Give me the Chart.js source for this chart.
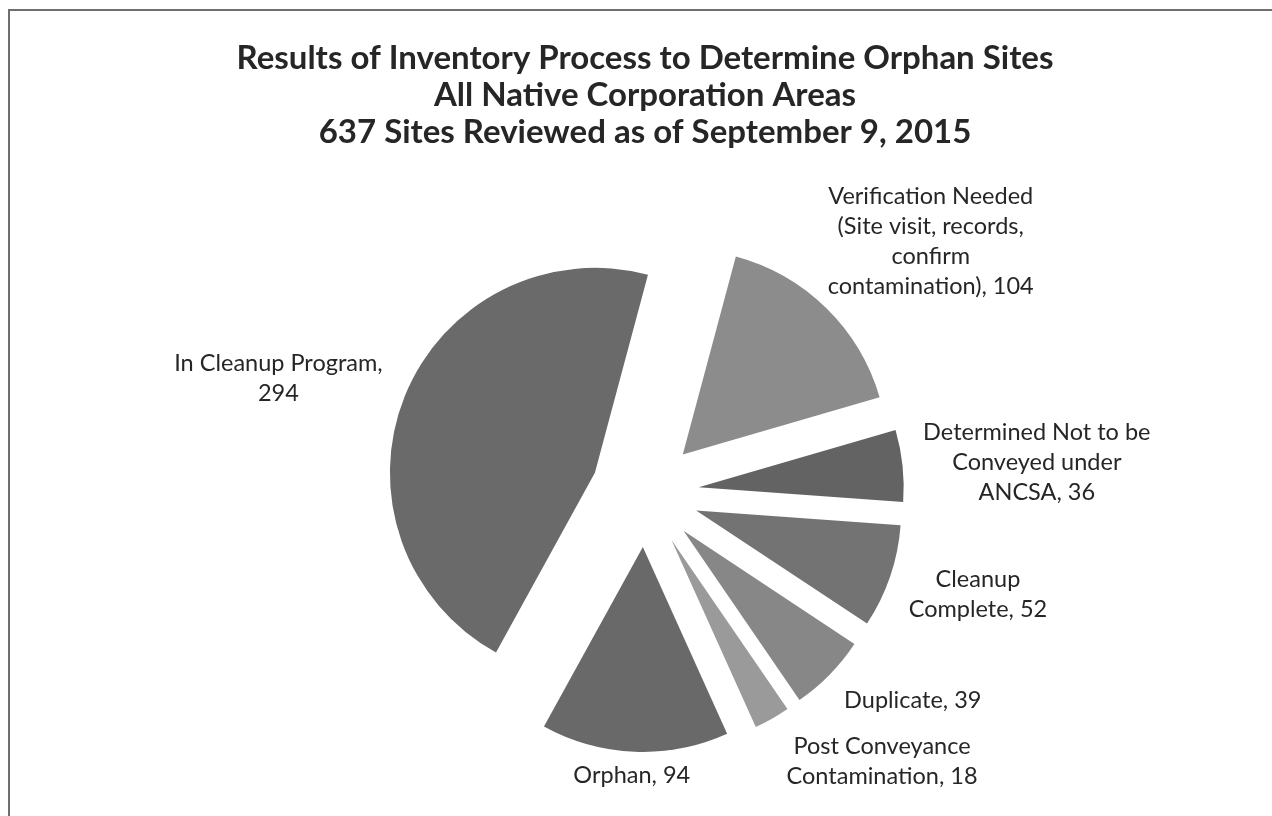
<!DOCTYPE html>
<html>
<head>
<meta charset="utf-8">
<script src="https://cdn.jsdelivr.net/npm/chart.js@4.4.1/dist/chart.umd.min.js"></script>
<style>
  html, body { margin: 0; padding: 0; background: #fff; }
  #contenedor { position: relative; width: 1272px; height: 816px; }
</style>
</head>
<body>
<div id="contenedor"><canvas id="graficoPastel"></canvas></div>
<script>
// Resultados del inventario: sitios huérfanos, pastel con porciones separadas

const titulo = [
  'Results of Inventory Process to Determine Orphan Sites',
  'All Native Corporation Areas',
  '637 Sites Reviewed as of September 9, 2015'
];

// orden en el sentido de las agujas del reloj, empezando arriba a la derecha
const categorias = [
  'Verification Needed (Site visit, records, confirm contamination)',
  'Determined Not to be Conveyed under ANCSA',
  'Cleanup Complete',
  'Duplicate',
  'Post Conveyance Contamination',
  'Orphan',
  'In Cleanup Program'
];
const sitios = [104, 36, 52, 39, 18, 94, 294];

// texto de cada etiqueta partido en líneas; {v} se cambia por el valor
const lineasEtiqueta = [
  ['Verification Needed', '(Site visit, records,', 'confirm', 'contamination), {v}'],
  ['Determined Not to be', 'Conveyed under', 'ANCSA, {v}'],
  ['Cleanup', 'Complete, {v}'],
  ['Duplicate, {v}'],
  ['Post Conveyance', 'Contamination, {v}'],
  ['Orphan, {v}'],
  ['In Cleanup Program,', '{v}']
];

// estilos
const colores = ['#8c8c8c', '#636363', '#737373', '#878787', '#9a9a9a', '#696969', '#6a6a6a'];
const SEPARACION = 54;      // px que se aleja cada porción del centro
const ajusteAngulo = [4.2, 1.6, -1.9, -6.7, -12.1, 0.4, -4.6];   // grados respecto a la bisectriz
const distEtiqueta = [381, 393, 348, 339, 358, 283, 384];       // px desde el centro
const COLOR_TEXTO = '#262626';
const FUENTE = 'Lato, "Open Sans", sans-serif';

const marco = {
  id: 'marco',
  beforeDraw(chart) {
    const ctx = chart.ctx;
    ctx.save();
    ctx.fillStyle = '#ffffff';
    ctx.fillRect(0, 0, chart.width, chart.height);
    ctx.strokeStyle = '#6e6e6e';
    ctx.lineWidth = 2;
    ctx.beginPath();
    ctx.moveTo(9, chart.height + 5);
    ctx.lineTo(9, 10);
    ctx.lineTo(chart.width + 5, 10);
    ctx.stroke();
    ctx.restore();
  }
};

// dibuja cada arco desplazado sobre su bisectriz (pastel "explotado")
const separarPorciones = {
  id: 'separarPorciones',
  beforeDatasetDraw(chart, args) {
    const ctx = chart.ctx;
    args.meta.data.forEach(arc => {
      const mid = (arc.startAngle + arc.endAngle) / 2;
      ctx.save();
      ctx.translate(Math.cos(mid) * SEPARACION, Math.sin(mid) * SEPARACION);
      arc.draw(ctx);
      ctx.restore();
    });
    return false;
  }
};

const etiquetas = {
  id: 'etiquetas',
  afterDatasetsDraw(chart) {
    const ctx = chart.ctx;
    const meta = chart.getDatasetMeta(0);
    ctx.save();
    ctx.font = '23.5px ' + FUENTE;
    ctx.fillStyle = COLOR_TEXTO;
    ctx.textAlign = 'center';
    ctx.textBaseline = 'middle';
    const alto = 30;
    meta.data.forEach((arc, i) => {
      const ang = (arc.startAngle + arc.endAngle) / 2 + ajusteAngulo[i] * Math.PI / 180;
      const x = arc.x + Math.cos(ang) * distEtiqueta[i];
      const y = arc.y + Math.sin(ang) * distEtiqueta[i];
      const lineas = lineasEtiqueta[i].map(l => l.replace('{v}', sitios[i]));
      lineas.forEach((l, k) => {
        ctx.fillText(l, x, y + (k - (lineas.length - 1) / 2) * alto);
      });
    });
    ctx.restore();
  }
};

new Chart(document.getElementById('graficoPastel'), {
  type: 'pie',
  data: {
    labels: categorias,
    datasets: [{
      data: sitios,
      backgroundColor: colores,
      borderWidth: 0
    }]
  },
  options: {
    responsive: true,
    maintainAspectRatio: false,
    animation: false,
    rotation: 15,
    radius: 205,
    layout: { padding: { left: 18, right: 0, top: 0, bottom: 10 } },
    plugins: {
      legend: { display: false },
      tooltip: { enabled: false },
      title: {
        display: true,
        text: titulo,
        color: COLOR_TEXTO,
        font: { family: FUENTE, size: 33, weight: 'bold', lineHeight: 37 / 33 },
        padding: { top: 39.5, bottom: 29.5 }
      }
    }
  },
  plugins: [marco, separarPorciones, etiquetas]
});
</script>
</body>
</html>
